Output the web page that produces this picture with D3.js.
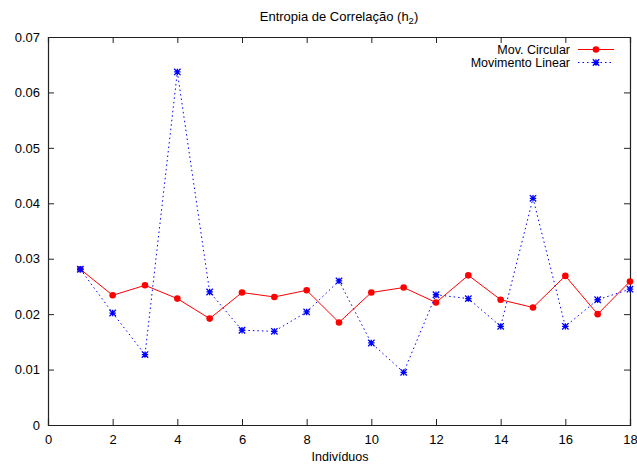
<!DOCTYPE html>
<html>
<head>
<meta charset="utf-8">
<script src="https://cdn.jsdelivr.net/npm/d3@7"></script>
<style>
  body { margin: 0; background: #fff; }
  text { font-family: "Liberation Sans", Arial, sans-serif; fill: #000; }
</style>
</head>
<body>
<script>
// individuals 1..18
var individuos = d3.range(1, 19);
var movCircular = [0.0281, 0.0234, 0.0252, 0.0228, 0.0192, 0.0239, 0.0231, 0.0243, 0.0185,
                   0.0239, 0.0248, 0.0221, 0.0270, 0.0226, 0.0212, 0.0269, 0.0200, 0.0259];
var movLinear = [0.0281, 0.0202, 0.0127, 0.0637, 0.0240, 0.0171, 0.0169, 0.0204, 0.0260,
                 0.0148, 0.0095, 0.0235, 0.0228, 0.0178, 0.0409, 0.0178, 0.0226, 0.0245];
var xTicks = [0, 2, 4, 6, 8, 10, 12, 14, 16, 18];
var yTicks = [0, 0.01, 0.02, 0.03, 0.04, 0.05, 0.06, 0.07];

var W = 637, H = 466;
var m = {left: 48, right: 7, top: 37, bottom: 41};

var svg = d3.select("body").append("svg").attr("width", W).attr("height", H);

var x = d3.scaleLinear().domain([0, 18]).range([m.left, W - m.right]);
var y = d3.scaleLinear().domain([0, 0.07]).range([H - m.bottom, m.top]);

var fmt = function(d) { return d === 0 ? "0" : d3.format(".2f")(d); };

// axes: ticks pointing inward on all four sides (gnuplot border)
svg.append("g").attr("transform", "translate(0," + y(0) + ")")
  .call(d3.axisBottom(x).tickValues(xTicks).tickSize(-6).tickPadding(10).tickFormat(d3.format("d")));
svg.append("g").attr("transform", "translate(0," + y(0.07) + ")")
  .call(d3.axisTop(x).tickValues(xTicks).tickSize(-6).tickFormat(""));
svg.append("g").attr("transform", "translate(" + x(0) + ",0)")
  .call(d3.axisLeft(y).tickValues(yTicks).tickSize(-6).tickPadding(8).tickFormat(fmt));
svg.append("g").attr("transform", "translate(" + x(18) + ",0)")
  .call(d3.axisRight(y).tickValues(yTicks).tickSize(-6).tickFormat(""));

svg.selectAll(".domain").attr("stroke", "#222").attr("stroke-width", 1.2);
svg.selectAll(".tick line").attr("stroke", "#222");
svg.selectAll(".tick text").style("font-size", "13px").style("font-family", "Liberation Sans, Arial, sans-serif");

// title + axis label
var title = svg.append("text").attr("x", 339).attr("y", 21).attr("text-anchor", "middle").style("font-size", "13px");
title.append("tspan").text("Entropia de Correlação (h");
title.append("tspan").attr("dy", 3).style("font-size", "9.5px").text("2");
title.append("tspan").attr("dy", -3).text(")");

svg.append("text").attr("x", 340).attr("y", 461).attr("text-anchor", "middle")
  .style("font-size", "12.5px").text("Indivíduos");

var line = d3.line().x(function(d) { return x(d[0]); }).y(function(d) { return y(d[1]); });

var circ = individuos.map(function(d, i) { return [d, movCircular[i]]; });
var lin = individuos.map(function(d, i) { return [d, movLinear[i]]; });

function star(g, cx, cy) {
  var s = 3.2;
  g.append("path")
    .attr("d", "M" + (cx - s) + "," + cy + "H" + (cx + s) +
               "M" + cx + "," + (cy - s) + "V" + (cy + s) +
               "M" + (cx - s) + "," + (cy - s) + "L" + (cx + s) + "," + (cy + s) +
               "M" + (cx - s) + "," + (cy + s) + "L" + (cx + s) + "," + (cy - s))
    .attr("stroke", "#00f").attr("stroke-width", 1.3).attr("fill", "none");
}

// red series
svg.append("path").datum(circ).attr("d", line)
  .attr("fill", "none").attr("stroke", "#f00").attr("stroke-width", 1);
svg.selectAll(".ptc").data(circ).enter().append("circle")
  .attr("cx", function(d) { return x(d[0]); }).attr("cy", function(d) { return y(d[1]); })
  .attr("r", 3.3).attr("fill", "#f00");

// blue series
svg.append("path").datum(lin).attr("d", line)
  .attr("fill", "none").attr("stroke", "#00f").attr("stroke-width", 1).attr("stroke-dasharray", "1.5,3");
var gs = svg.append("g");
lin.forEach(function(d) { star(gs, x(d[0]), y(d[1])); });

// legend
svg.append("text").attr("x", 570).attr("y", 54).attr("text-anchor", "end").style("font-size", "12.5px").text("Mov. Circular");
svg.append("line").attr("x1", 578).attr("x2", 614).attr("y1", 49.5).attr("y2", 49.5).attr("stroke", "#f00");
svg.append("circle").attr("cx", 596).attr("cy", 49.5).attr("r", 3.3).attr("fill", "#f00");

svg.append("text").attr("x", 570).attr("y", 67).attr("text-anchor", "end").style("font-size", "12.5px").text("Movimento Linear");
svg.append("line").attr("x1", 578).attr("x2", 614).attr("y1", 62.5).attr("y2", 62.5)
  .attr("stroke", "#00f").attr("stroke-dasharray", "1.5,3");
star(svg, 596, 62.5);
</script>
</body>
</html>
